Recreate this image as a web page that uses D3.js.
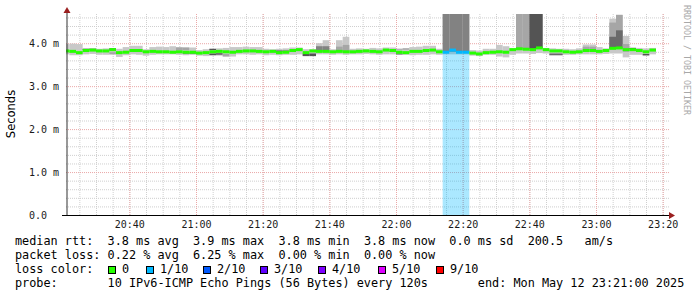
<!DOCTYPE html>
<html>
<head>
<meta charset="utf-8">
<title>SmokePing latency</title>
<script src="https://cdn.jsdelivr.net/npm/d3@7"></script>
<style>
  html, body { margin: 0; padding: 0; background: #fff; }
  svg { display: block; }
  text { font-family: "DejaVu Sans Mono", monospace; }
</style>
</head>
<body>
<svg id="chart" width="697" height="297"></svg>
<script>
// one value per 2 minute step, first step ends 20:22
const firstEnd = new Date(2025, 4, 12, 20, 22);
const stepMinutes = 2;
// median rtt, ms
const median = [
  3.82, 3.81, 3.78, 3.83, 3.84, 3.82, 3.82, 3.85, 3.78, 3.79,
  3.83, 3.83, 3.80, 3.81, 3.80, 3.80, 3.79, 3.80, 3.79, 3.79,
  3.77, 3.78, 3.80, 3.81, 3.80, 3.79, 3.81, 3.82, 3.82, 3.81,
  3.80, 3.81, 3.78, 3.79, 3.83, 3.85, 3.78, 3.82, 3.81, 3.81,
  3.80, 3.81, 3.80, 3.80, 3.81, 3.82, 3.81, 3.80, 3.84, 3.83,
  3.79, 3.78, 3.81, 3.81, 3.83, 3.84, 3.80, 3.79, 3.84, 3.79,
  3.79, 3.77, 3.75, 3.78, 3.79, 3.80, 3.79, 3.85, 3.87, 3.86,
  3.85, 3.89, 3.85, 3.82, 3.82, 3.80, 3.79, 3.80, 3.83, 3.83,
  3.81, 3.83, 3.88, 3.89, 3.85, 3.85, 3.83, 3.80, 3.84
];
// fastest ping of each step, ms
const pingLo = [
  3.74, 3.72, 3.72, 3.74, 3.75, 3.73, 3.73, 3.74, 3.68, 3.72,
  3.74, 3.73, 3.71, 3.73, 3.74, 3.74, 3.74, 3.73, 3.72, 3.73,
  3.71, 3.70, 3.72, 3.71, 3.68, 3.69, 3.74, 3.74, 3.73, 3.74,
  3.72, 3.73, 3.72, 3.73, 3.73, 3.74, 3.70, 3.70, 3.74, 3.74,
  3.73, 3.74, 3.73, 3.74, 3.74, 3.75, 3.74, 3.73, 3.74, 3.74,
  3.73, 3.73, 3.72, 3.73, 3.73, 3.74, 3.73, 3.74, 3.74, 3.74,
  3.74, 3.71, 3.70, 3.73, 3.73, 3.69, 3.67, 3.73, 3.76, 3.76,
  3.75, 3.77, 3.76, 3.72, 3.72, 3.73, 3.73, 3.74, 3.74, 3.74,
  3.74, 3.75, 3.76, 3.76, 3.67, 3.73, 3.73, 3.70, 3.74
];
// slowest ping of each step, ms
const pingHi = [
  3.98, 3.99, 3.98, 3.88, 3.88, 3.87, 3.88, 3.88, 3.87, 3.91,
  3.94, 3.94, 3.86, 3.91, 3.92, 3.91, 3.93, 3.91, 3.90, 3.90,
  3.84, 3.86, 3.87, 3.88, 3.89, 3.91, 3.91, 3.92, 3.91, 3.91,
  3.87, 3.86, 3.87, 3.88, 3.90, 3.90, 3.86, 3.86, 4.00, 4.07,
  3.86, 4.07, 4.15, 3.87, 3.88, 3.87, 3.89, 3.88, 3.90, 3.90,
  3.87, 3.88, 3.91, 3.92, 3.94, 3.94, 3.87, 4.68, 4.68, 4.68,
  4.68, 3.84, 3.83, 3.87, 3.87, 3.96, 3.93, 3.89, 4.68, 4.68,
  4.68, 4.68, 3.89, 3.88, 3.87, 3.87, 3.86, 3.88, 3.97, 3.97,
  3.91, 3.88, 4.57, 4.66, 4.17, 3.90, 3.89, 3.88, 3.89
];
// lost pings (out of 10) per step
const lossCount = [
  0, 0, 0, 0, 0, 0, 0, 0, 0, 0,  0, 0, 0, 0, 0, 0, 0, 0, 0, 0,
  0, 0, 0, 0, 0, 0, 0, 0, 0, 0,  0, 0, 0, 0, 0, 0, 0, 0, 0, 0,
  0, 0, 0, 0, 0, 0, 0, 0, 0, 0,  0, 0, 0, 0, 0, 0, 0, 1, 1, 1,
  1, 0, 0, 0, 0, 0, 0, 0, 0, 0,  0, 0, 0, 0, 0, 0, 0, 0, 0, 0,
  0, 0, 0, 0, 0, 0, 0, 0, 0
];
// inner smoke bands: [step, from ms, to ms, rank from outside]
const smokeBands = [
  [3, 3.84, 3.87, 4], [4, 3.85, 3.87, 4], [7, 3.83, 3.88, 4], [7, 3.74, 3.79, 1],
  [17, 3.84, 3.90, 1], [18, 3.84, 3.90, 1], [18, 3.76, 3.78, 4], [19, 3.76, 3.78, 4],
  [22, 3.84, 3.87, 4], [22, 3.72, 3.76, 4], [23, 3.73, 3.77, 3], [24, 3.70, 3.75, 1],
  [32, 3.80, 3.83, 4], [33, 3.80, 3.83, 3], [36, 3.70, 3.76, 4], [37, 3.70, 3.76, 4],
  [38, 3.80, 3.93, 2], [39, 3.80, 3.93, 2], [41, 3.80, 3.92, 1], [42, 3.80, 3.96, 1],
  [50, 3.85, 3.87, 1], [51, 3.85, 3.88, 1], [50, 3.74, 3.76, 4],
  [57, 3.80, 4.68, 2], [58, 3.80, 4.68, 2], [59, 3.80, 4.68, 2], [60, 3.80, 4.68, 2],
  [68, 3.86, 4.68, 1], [69, 3.86, 4.68, 1], [70, 3.86, 4.68, 4], [71, 3.88, 4.68, 4],
  [73, 3.72, 3.76, 3], [74, 3.72, 3.76, 3], [78, 3.85, 3.92, 1], [79, 3.85, 3.92, 1],
  [82, 3.88, 4.48, 1], [82, 3.87, 4.15, 3], [83, 3.88, 4.66, 1], [83, 3.87, 4.30, 3],
  [84, 3.80, 3.98, 1], [85, 3.86, 3.89, 4], [87, 3.72, 3.75, 4]
];
const yTickValues = [0, 1, 2, 3, 4];
const lossLabels = ["0", "1/10", "2/10", "3/10", "4/10", "5/10", "9/10"];
const lossSteps = [0, 1, 2, 3, 4, 5, 9];
const statLines = [
  "median rtt:  3.8 ms avg  3.9 ms max  3.8 ms min  3.8 ms now  0.0 ms sd  200.5   am/s",
  "packet loss: 0.22 % avg  6.25 % max  0.00 % min  0.00 % now",
  "loss color:",
  "probe:       10 IPv6-ICMP Echo Pings (56 Bytes) every 120s       end: Mon May 12 23:21:00 2025"
];

const svg = d3.select("#chart");
const x = d3.scaleTime()
  .domain([new Date(2025, 4, 12, 20, 21), new Date(2025, 4, 12, 23, 21)])
  .range([66, 666]);
const y = d3.scaleLinear().domain([0, 4.68]).range([215, 14]);
const shade = d3.scaleOrdinal().domain([0, 1, 2, 3, 4])
  .range(["#c8c8c8", "#a6a6a6", "#828282", "#6a6a6a", "#545454"]);
const lossColor = d3.scaleThreshold().domain(lossSteps.slice(1))
  .range(["#26ff00", "#00b8ff", "#0059ff", "#5e00ff", "#7e00ff", "#dd00ff", "#ff0000"]);

const stepEnd = median.map((d, i) => d3.timeMinute.offset(firstEnd, i * stepMinutes));
function x0(i) { return Math.max(x(d3.timeMinute.offset(stepEnd[i], -stepMinutes)), x.range()[0]); }
function x1(i) { return x(stepEnd[i]); }
const steps = d3.range(median.length);

// grid, under the data
function dotted(g, colour) {
  g.select(".domain").remove();
  g.selectAll("line").attr("stroke", colour).attr("stroke-dasharray", "1,1");
}
svg.append("g").attr("transform", "translate(0,215)")
  .call(d3.axisBottom(x).ticks(d3.timeMinute.every(5)).tickSize(-201).tickFormat(""))
  .call(g => dotted(g, "#cfcfcf"));
svg.append("g").attr("transform", "translate(66,0)")
  .call(d3.axisLeft(y).tickValues(d3.range(1, 24).map(d => d / 5).filter(d => d % 1 !== 0)).tickSize(-603).tickFormat(""))
  .call(g => dotted(g, "#cfcfcf"));
svg.append("g").attr("transform", "translate(0,215)")
  .call(d3.axisBottom(x).ticks(d3.timeMinute.every(20)).tickSize(-201).tickFormat(""))
  .call(g => dotted(g, "#eaa8a8"));
svg.append("g").attr("transform", "translate(66,0)")
  .call(d3.axisLeft(y).tickValues(yTickValues.slice(1)).tickSize(-603).tickFormat(""))
  .call(g => dotted(g, "#eaa8a8"));

// smoke
svg.append("g").selectAll("rect").data(steps).join("rect")
  .attr("x", i => x0(i)).attr("width", i => x1(i) - x0(i))
  .attr("y", i => y(pingHi[i])).attr("height", i => y(pingLo[i]) - y(pingHi[i]))
  .attr("fill", shade(0));
svg.append("g").selectAll("rect").data(smokeBands).join("rect")
  .attr("x", d => x0(d[0])).attr("width", d => x1(d[0]) - x0(d[0]))
  .attr("y", d => y(d[2])).attr("height", d => y(d[1]) - y(d[2]))
  .attr("fill", d => shade(d[3]));
// loss background, see-through so the grid stays visible
svg.append("g").selectAll("rect").data(steps.filter(i => lossCount[i] > 0)).join("rect")
  .attr("x", i => x0(i)).attr("width", i => x1(i) - x0(i))
  .attr("y", i => y(median[i])).attr("height", i => y(0) - y(median[i]))
  .attr("fill", i => lossColor(lossCount[i])).attr("fill-opacity", 0.33);
// median
svg.append("g").selectAll("rect").data(steps).join("rect")
  .attr("x", i => x0(i)).attr("width", i => x1(i) - x0(i))
  .attr("y", i => y(median[i]) - 1.5).attr("height", 3)
  .attr("fill", i => lossColor(lossCount[i]));

// axes
svg.append("line").attr("x1", 67).attr("x2", 67).attr("y1", 215).attr("y2", 10)
  .attr("stroke", "#333");
svg.append("line").attr("x1", 62).attr("x2", 670).attr("y1", 215.5).attr("y2", 215.5)
  .attr("stroke", "#000");
svg.append("path").attr("d", "M63.5,13L70.5,13L67,7Z").attr("fill", "#9a1f1f");
svg.append("path").attr("d", "M669,212L669,219L675,215.5Z").attr("fill", "#9a1f1f");

// tick labels
svg.append("g").attr("transform", "translate(0,215)")
  .call(d3.axisBottom(x).ticks(d3.timeMinute.every(20)).tickSize(0).tickPadding(6)
    .tickFormat(d3.timeFormat("%H:%M")))
  .call(g => g.select(".domain").remove())
  .call(g => g.selectAll("text").attr("font-family", "DejaVu Sans Mono").attr("font-size", 10).attr("fill", "#1a1a1a"));
svg.append("g").attr("transform", "translate(66,0)")
  .call(d3.axisLeft(y).tickValues(yTickValues).tickSize(0)
    .tickFormat(d => d === 0 ? "0.0" : d.toFixed(1) + " m"))
  .call(g => g.select(".domain").remove())
  .call(g => g.selectAll("text").attr("text-anchor", "start").attr("x", 29 - 66)
    .attr("font-family", "DejaVu Sans Mono").attr("font-size", 10).attr("fill", "#1a1a1a"));

svg.append("text").attr("transform", "translate(15,114) rotate(-90)")
  .attr("text-anchor", "middle").style("font-family", "'DejaVu Sans'").attr("font-size", 11.5)
  .text("Seconds");
svg.append("text").attr("transform", "translate(684,5) rotate(90)")
  .attr("font-size", 8.3).attr("fill", "#a8a8a8")
  .text("RRDTOOL / TOBI OETIKER");

// legend, laid out on a fixed character grid
const charW = 7.12;
statLines.forEach((line, row) => {
  const words = [...line.matchAll(/\S+/g)];
  svg.append("g").selectAll("text").data(words).join("text")
    .attr("x", m => 15 + m.index * charW).attr("y", 244.5 + row * 14.25)
    .attr("font-size", 11.83).attr("fill", "#000")
    .text(m => m[0]);
});
const boxX = [108, 146, 203, 260, 318, 378, 436];
const lossKey = svg.append("g").selectAll("g").data(lossLabels).join("g");
lossKey.append("rect")
  .attr("x", (d, i) => boxX[i] + 0.5).attr("y", 266.5).attr("width", 7).attr("height", 7)
  .attr("fill", (d, i) => lossColor(lossSteps[i])).attr("stroke", "#000");
lossKey.append("text")
  .attr("x", (d, i) => boxX[i] + 14).attr("y", 244.5 + 2 * 14.25)
  .attr("font-size", 11.83).attr("fill", "#000")
  .text(d => d);
</script>
</body>
</html>
